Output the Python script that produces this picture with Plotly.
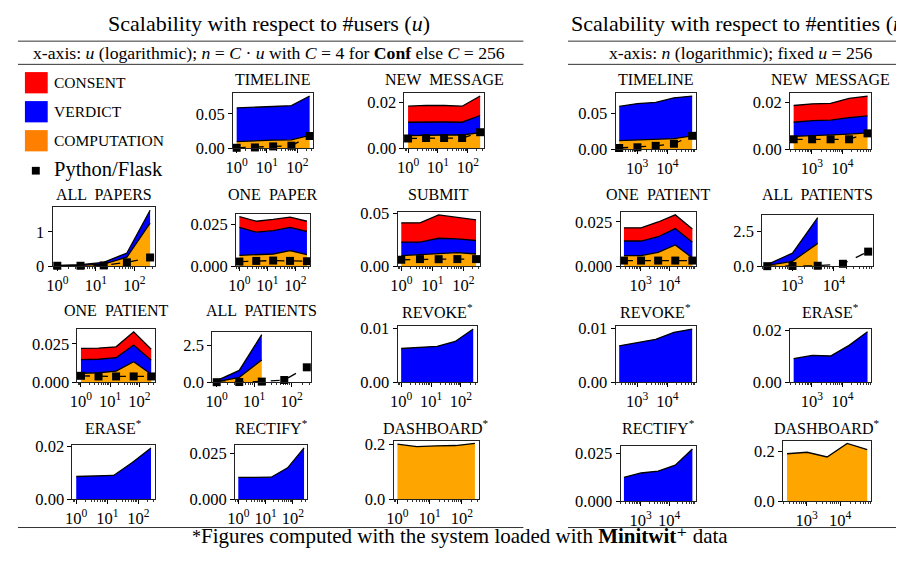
import plotly.graph_objects as go
import math

# ---------------- data ----------------
users = [1, 4, 16, 64, 256]
entities = [256, 1024, 4096, 16384, 65536]

# scalability with respect to #users
u_timeline_comp = [0.010, 0.0115, 0.012, 0.0125, 0.019]
u_timeline_verdict = [0.0485, 0.0485, 0.0485, 0.0492, 0.0567]
u_timeline_python = [0.001, 0.0015, 0.003, 0.004, 0.018]

u_newmsg_comp = [0.0055, 0.0058, 0.0058, 0.0058, 0.0068]
u_newmsg_verdict = [0.0058, 0.0057, 0.0056, 0.0055, 0.0074]
u_newmsg_consent = [0.0069, 0.0071, 0.0071, 0.0069, 0.0084]
u_newmsg_python = [0.0043, 0.0045, 0.0045, 0.0045, 0.0070]

u_allpapers_comp = [0.02, 0.03, 0.07, 0.27, 1.26]
u_allpapers_verdict = [0.01, 0.02, 0.05, 0.12, 0.37]
u_allpapers_python = [0.02, 0.02, 0.03, 0.12, 0.26]

u_onepaper_comp = [0.0066, 0.0068, 0.0074, 0.0094, 0.0070]
u_onepaper_verdict = [0.0166, 0.0136, 0.0139, 0.0138, 0.0138]
u_onepaper_consent = [0.0064, 0.0065, 0.0067, 0.0062, 0.0061]
u_onepaper_python = [0.0029, 0.0033, 0.0035, 0.0033, 0.0031]

u_submit_comp = [0.0102, 0.0110, 0.0124, 0.0130, 0.0117]
u_submit_verdict = [0.0127, 0.0119, 0.0141, 0.0130, 0.0127]
u_submit_consent = [0.0181, 0.0181, 0.0220, 0.0200, 0.0193]
u_submit_python = [0.0063, 0.0069, 0.0068, 0.0069, 0.0069]

u_onepatient_comp = [0.0059, 0.0063, 0.0073, 0.0134, 0.0053]
u_onepatient_verdict = [0.0089, 0.0087, 0.0087, 0.0108, 0.0091]
u_onepatient_consent = [0.0072, 0.0072, 0.0070, 0.0085, 0.0071]
u_onepatient_python = [0.0043, 0.0039, 0.0039, 0.0039, 0.0039]

u_allpatients_comp = [0.05, 0.35, 1.53]
u_allpatients_verdict = [0.08, 0.47, 1.72]
u_allpatients_python = [0.02, 0.03, 0.06, 0.17, 1.03]

u_revoke_verdict = [0.0063, 0.0065, 0.0067, 0.0076, 0.0099]
u_erase_verdict = [0.0087, 0.0088, 0.0091, 0.0140, 0.0195]
u_rectify_verdict = [0.0120, 0.0120, 0.0121, 0.0172, 0.0280]
u_dashboard_comp = [0.200, 0.191, 0.194, 0.195, 0.203]

# scalability with respect to #entities
n_timeline_comp = [0.0123, 0.013, 0.014, 0.015, 0.019]
n_timeline_verdict = [0.0477, 0.051, 0.0515, 0.057, 0.0555]
n_timeline_python = [0.002, 0.003, 0.005, 0.008, 0.019]

n_newmsg_comp = [0.0055, 0.0058, 0.0060, 0.0065, 0.0070]
n_newmsg_verdict = [0.0060, 0.0064, 0.0064, 0.0070, 0.0072]
n_newmsg_consent = [0.0071, 0.0071, 0.0071, 0.0081, 0.0084]
n_newmsg_python = [0.0043, 0.0043, 0.0043, 0.0043, 0.0068]

n_onepatient_comp = [0.0061, 0.0061, 0.0079, 0.0121, 0.0048]
n_onepatient_verdict = [0.0082, 0.0082, 0.0088, 0.0092, 0.0088]
n_onepatient_consent = [0.0074, 0.0074, 0.0083, 0.0077, 0.0074]
n_onepatient_python = [0.0033, 0.0033, 0.0033, 0.0033, 0.0033]

n_allpatients_comp = [0.07, 0.37, 1.65]
n_allpatients_verdict = [0.07, 0.58, 1.84]
n_allpatients_python = [0.02, 0.03, 0.05, 0.19, 1.06]

n_revoke_verdict = [0.0068, 0.0074, 0.0080, 0.0093, 0.0099]
n_erase_verdict = [0.0092, 0.0104, 0.0102, 0.0143, 0.0195]
n_rectify_verdict = [0.0126, 0.0149, 0.0159, 0.0190, 0.0275]
n_dashboard_comp = [0.191, 0.197, 0.178, 0.2325, 0.2077]

# y tick labels
yt_005 = ["0.00", "0.05"]
yt_002 = ["0.00", "0.02"]
yt_001 = ["0.00", "0.01"]
yt_0025 = ["0.000", "0.025"]
yt_1 = ["0", "1"]
yt_25 = ["0.0", "2.5"]
yt_02 = ["0.0", "0.2"]

# panels: title, side, comp, verdict, consent, python, yticklabels
panels = [
    ("TIMELINE", "u", u_timeline_comp, u_timeline_verdict, None, u_timeline_python, yt_005),
    ("NEW  MESSAGE", "u", u_newmsg_comp, u_newmsg_verdict, u_newmsg_consent, u_newmsg_python, yt_002),
    ("ALL  PAPERS", "u", u_allpapers_comp, u_allpapers_verdict, None, u_allpapers_python, yt_1),
    ("ONE  PAPER", "u", u_onepaper_comp, u_onepaper_verdict, u_onepaper_consent, u_onepaper_python, yt_0025),
    ("SUBMIT", "u", u_submit_comp, u_submit_verdict, u_submit_consent, u_submit_python, yt_005),
    ("ONE  PATIENT", "u", u_onepatient_comp, u_onepatient_verdict, u_onepatient_consent, u_onepatient_python, yt_0025),
    ("ALL  PATIENTS", "u", u_allpatients_comp, u_allpatients_verdict, None, u_allpatients_python, yt_25),
    ("REVOKE<sup>*</sup>", "u", None, u_revoke_verdict, None, None, yt_001),
    ("ERASE<sup>*</sup>", "u", None, u_erase_verdict, None, None, yt_002),
    ("RECTIFY<sup>*</sup>", "u", None, u_rectify_verdict, None, None, yt_0025),
    ("DASHBOARD<sup>*</sup>", "u", u_dashboard_comp, None, None, None, yt_02),
    ("TIMELINE", "n", n_timeline_comp, n_timeline_verdict, None, n_timeline_python, yt_005),
    ("NEW  MESSAGE", "n", n_newmsg_comp, n_newmsg_verdict, n_newmsg_consent, n_newmsg_python, yt_002),
    ("ONE  PATIENT", "n", n_onepatient_comp, n_onepatient_verdict, n_onepatient_consent, n_onepatient_python, yt_0025),
    ("ALL  PATIENTS", "n", n_allpatients_comp, n_allpatients_verdict, None, n_allpatients_python, yt_25),
    ("REVOKE<sup>*</sup>", "n", None, n_revoke_verdict, None, None, yt_001),
    ("ERASE<sup>*</sup>", "n", None, n_erase_verdict, None, None, yt_002),
    ("RECTIFY<sup>*</sup>", "n", None, n_rectify_verdict, None, None, yt_0025),
    ("DASHBOARD<sup>*</sup>", "n", n_dashboard_comp, None, None, None, yt_02),
]

# ---------------- layout ----------------
# Page pixel boxes (left, top, right, bottom) and title row y.  The browser adds an
# 8px body margin, so the figure is 16px smaller than the window and coordinates
# are shifted by that margin.
PAGE_W, PAGE_H, BODY = 904, 561, 8
W, H = PAGE_W - 2 * BODY, PAGE_H - 2 * BODY
boxes = [
    (227, 88, 308, 145), (400, 88, 480, 145),
    (45, 206, 148, 267), (230, 213, 305, 267), (393, 211, 476, 267),
    (70, 332, 148, 387), (206, 335, 306, 387), (393, 329, 473, 387),
    (65, 452, 148, 508), (229, 452, 302, 508), (389, 447, 475, 508),
    (613, 88, 694, 146), (789, 88, 871, 146),
    (618, 211, 694, 267), (761, 214, 873, 267),
    (613, 329, 694, 387), (789, 332, 871, 387),
    (618, 453, 694, 510), (782, 447, 871, 510),
]
title_y = [74, 74, 193, 193, 193, 313, 313, 313, 433, 433, 433,
           74, 74, 193, 193, 313, 313, 433, 433]

FONT = "Liberation Serif, DejaVu Serif, serif"
RED, BLUE, ORANGE = "#FF0000", "#0000FF", "#FFA500"


def X(px):
    return (px - BODY) / W


def Y(py):
    return 1 - (py - BODY) / H


def xrange_log(xs):
    a, b = math.log10(xs[0]), math.log10(xs[-1])
    m = 0.05 * (b - a)
    return [a - m, b + m]


def minor_vals(xs):
    lo, hi = xs[0] / 2, xs[-1] * 2
    vals = []
    k = 10 ** math.floor(math.log10(lo))
    while k < hi:
        for d in range(2, 10):
            v = d * k
            if lo <= v <= hi:
                vals.append(v)
        k *= 10
    return vals


fig = go.Figure()
annotations = []
layout = {}

for i, (p, box, ty) in enumerate(zip(panels, boxes, title_y), start=1):
    title, side, comp, verdict, consent, python, ytl = p
    xs_all = users if side == "u" else entities
    xref = "x" if i == 1 else f"x{i}"
    yref = "y" if i == 1 else f"y{i}"
    totals = None
    for vals, col in ((comp, ORANGE), (verdict, BLUE), (consent, RED)):
        if vals is None:
            continue
        xs = xs_all[:len(vals)]
        fig.add_trace(go.Scatter(
            x=xs, y=vals, stackgroup=f"s{i}", mode="lines",
            line=dict(color="black", width=1.3), fillcolor=col,
            xaxis=xref, yaxis=yref, showlegend=False, hoverinfo="skip"))
        totals = list(vals) if totals is None else [t + v for t, v in zip(totals, vals)]
    ymax = max(totals)
    if python is not None:
        fig.add_trace(go.Scatter(
            x=xs_all, y=python, mode="lines+markers",
            line=dict(color="black", width=1.3, dash="dash"),
            marker=dict(symbol="square", size=8, color="black"),
            cliponaxis=False, xaxis=xref, yaxis=yref,
            showlegend=False, hoverinfo="skip"))
        ymax = max(ymax, max(python))
    ytop = ymax * 1.05
    ytick = float(ytl[1])

    l, t, r, b = box
    if side == "u":
        tv, tt = [1, 10, 100], ["10<sup>0</sup>", "10<sup>1</sup>", "10<sup>2</sup>"]
    else:
        tv, tt = [1000, 10000], ["10<sup>3</sup>", "10<sup>4</sup>"]
    axcommon = dict(showline=True, linecolor="#222", linewidth=1, mirror=True,
                    showgrid=False, zeroline=False, ticks="outside", ticklen=4,
                    tickwidth=1, tickcolor="black",
                    tickfont=dict(family=FONT, size=16.5, color="black"))
    sx = "" if i == 1 else str(i)
    layout[f"xaxis{sx}"] = dict(
        domain=[X(l), X(r)], anchor=yref, type="log", range=xrange_log(xs_all),
        tickmode="array", tickvals=tv, ticktext=tt,
        minor=dict(tickmode="array", tickvals=minor_vals(xs_all), ticks="outside",
                   ticklen=2, tickwidth=0.8, tickcolor="black", showgrid=False),
        **axcommon)
    layout[f"yaxis{sx}"] = dict(
        domain=[Y(b), Y(t)], anchor=xref, range=[0, ytop],
        tickmode="array", tickvals=[0, ytick], ticktext=ytl, **axcommon)
    annotations.append(dict(
        text=title, x=X((l + r) / 2), y=Y(ty), xref="paper", yref="paper",
        xanchor="center", yanchor="middle", showarrow=False,
        font=dict(family=FONT, size=16, color="black")))

# headers
base = dict(xref="paper", yref="paper", showarrow=False, yanchor="middle")
annotations += [
    dict(text="Scalability with respect to #users (<i>u</i>)", x=X(263), y=Y(16),
         xanchor="center", font=dict(family=FONT, size=22, color="black"), **base),
    dict(text="Scalability with respect to #entities (<i>n</i>)", x=X(566), y=Y(16),
         xanchor="left", font=dict(family=FONT, size=22, color="black"), **base),
    dict(text="x-axis: <i>u</i> (logarithmic); <i>n</i> = <i>C</i> · <i>u</i> with "
              "<i>C</i> = 4 for <b>Conf</b> else <i>C</i> = 256",
         x=X(263), y=Y(46), xanchor="center",
         font=dict(family=FONT, size=17.7, color="black"), **base),
    dict(text="x-axis: <i>n</i> (logarithmic); fixed <i>u</i> = 256",
         x=X(740), y=Y(46), xanchor="center",
         font=dict(family=FONT, size=17.7, color="black"), **base),
    dict(text="<span style='font-size:18px'>*</span>Figures computed with the system "
              "loaded with <b>Minitwit</b>⁺ data",
         x=X(456), y=Y(546), xanchor="center",
         font=dict(family=FONT, size=21, color="black"), **base),
]

# legend
leg = dict(xref="paper", yref="paper", showarrow=False, xanchor="left", yanchor="middle")
for label, yc in (("CONSENT", 77), ("VERDICT", 107), ("COMPUTATION", 137)):
    annotations.append(dict(text=label, x=X(44), y=Y(yc),
                            font=dict(family=FONT, size=15.5, color="black"), **leg))
annotations.append(dict(text="Python/Flask", x=X(44), y=Y(167),
                        font=dict(family=FONT, size=20.5, color="black"), **leg))

shapes = []
for col, y0 in ((RED, 66), (BLUE, 96), ("#FF8000", 126)):
    shapes.append(dict(type="rect", xref="paper", yref="paper", x0=X(17), x1=X(40),
                       y0=Y(y0 + 22), y1=Y(y0), fillcolor=col, line=dict(width=0)))
shapes.append(dict(type="rect", xref="paper", yref="paper", x0=X(24), x1=X(32),
                   y0=Y(172), y1=Y(164), fillcolor="black", line=dict(width=0)))

# rules
for yy in (34, 58, 537):
    for x0, x1 in ((10, 520), (565, 904)):
        shapes.append(dict(type="line", xref="paper", yref="paper", x0=X(x0), x1=X(x1),
                           y0=Y(yy), y1=Y(yy), line=dict(color="#333", width=1)))

fig.update_layout(
    width=W, height=H, margin=dict(l=0, r=0, t=0, b=0),
    paper_bgcolor="white", plot_bgcolor="white", hovermode=False,
    showlegend=False, annotations=annotations, shapes=shapes, **layout)

fig.write_html("out.html", config={"displayModeBar": False, "staticPlot": True})
